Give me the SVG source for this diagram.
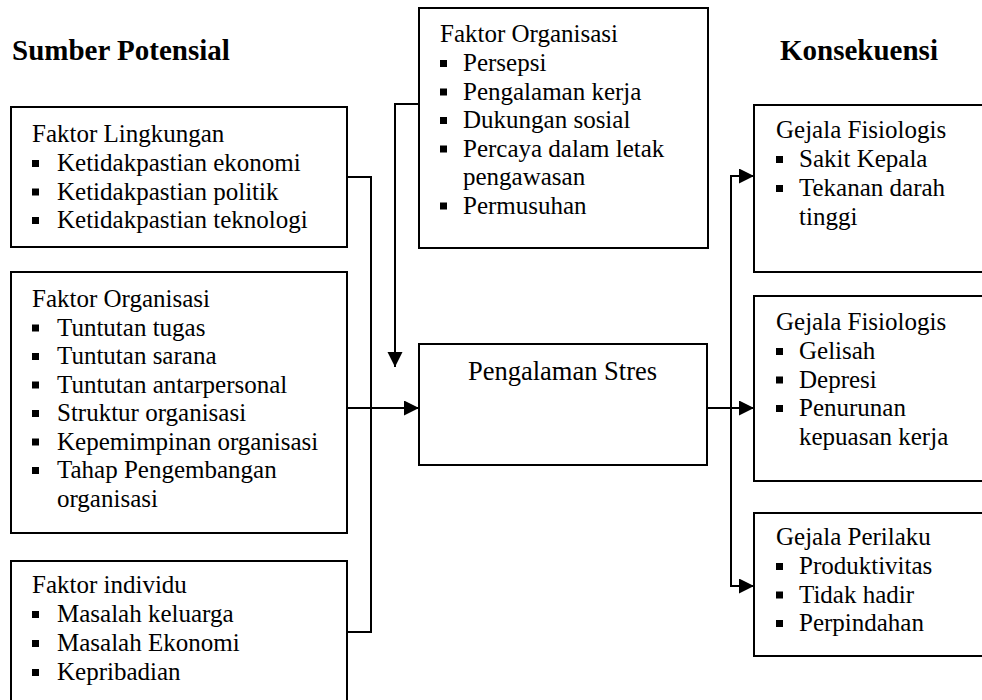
<svg xmlns="http://www.w3.org/2000/svg" xmlns:xlink="http://www.w3.org/1999/xlink" width="982" height="700" viewBox="0 0 982 700">
<style>
.box{fill:#fff;stroke:#000;stroke-width:2}
.t{font-family:"Liberation Serif","Times New Roman",serif;font-size:25px;fill:#000}
.h{font-family:"Liberation Serif","Times New Roman",serif;font-size:29px;font-weight:bold;fill:#000}
.ln{fill:none;stroke:#000;stroke-width:2}
</style>
<defs>
<rect id="b" x="0" y="-11" width="7" height="7" fill="#000"/>
<marker id="ar" markerUnits="userSpaceOnUse" markerWidth="16" markerHeight="16" refX="15" refY="7.5" orient="auto">
<path d="M0,0 L15,7.5 L0,15 Z" fill="#000"/>
</marker>
</defs>
<rect width="982" height="700" fill="#fff"/>
<text class="h" x="12" y="60">Sumber Potensial</text>
<text class="h" x="780" y="60">Konsekuensi</text>

<g id="connectors">
<polyline class="ln" points="347,177 371,177 371,632 347,632"/>
<line class="ln" x1="347" y1="408" x2="419" y2="408" marker-end="url(#ar)"/>
<polyline class="ln" points="419,104 395,104 395,367" marker-end="url(#ar)"/>
<line class="ln" x1="707" y1="408" x2="754" y2="408" marker-end="url(#ar)"/>
<polyline class="ln" points="754,176 731,176 731,586 754,586"/>
<line class="ln" x1="731" y1="176" x2="754" y2="176" marker-end="url(#ar)"/>
<line class="ln" x1="731" y1="586" x2="754" y2="586" marker-end="url(#ar)"/>
</g>

<g id="lingkungan">
<rect class="box" x="11" y="107" width="336" height="140"/>
<text class="t" x="32" y="142">Faktor Lingkungan</text>
<use href="#b" x="32" y="171"/><text class="t" x="57" y="171">Ketidakpastian ekonomi</text>
<use href="#b" x="32" y="199.5"/><text class="t" x="57" y="199.5">Ketidakpastian politik</text>
<use href="#b" x="32" y="228"/><text class="t" x="57" y="228">Ketidakpastian teknologi</text>
</g>

<g id="organisasi-kiri">
<rect class="box" x="11" y="272" width="336" height="261"/>
<text class="t" x="32" y="307">Faktor Organisasi</text>
<use href="#b" x="32" y="335.5"/><text class="t" x="57" y="335.5">Tuntutan tugas</text>
<use href="#b" x="32" y="364"/><text class="t" x="57" y="364">Tuntutan sarana</text>
<use href="#b" x="32" y="392.5"/><text class="t" x="57" y="392.5">Tuntutan antarpersonal</text>
<use href="#b" x="32" y="421"/><text class="t" x="57" y="421">Struktur organisasi</text>
<use href="#b" x="32" y="449.5"/><text class="t" x="57" y="449.5">Kepemimpinan organisasi</text>
<use href="#b" x="32" y="478"/><text class="t" x="57" y="478">Tahap Pengembangan</text>
<text class="t" x="57" y="507">organisasi</text>
</g>

<g id="individu">
<rect class="box" x="11" y="561" width="336" height="145"/>
<text class="t" x="32" y="593">Faktor individu</text>
<use href="#b" x="32" y="622"/><text class="t" x="57" y="622">Masalah keluarga</text>
<use href="#b" x="32" y="651"/><text class="t" x="57" y="651">Masalah Ekonomi</text>
<use href="#b" x="32" y="680"/><text class="t" x="57" y="680">Kepribadian</text>
</g>

<g id="organisasi-atas">
<rect class="box" x="419" y="8" width="289" height="240"/>
<text class="t" x="440" y="42">Faktor Organisasi</text>
<use href="#b" x="440" y="71"/><text class="t" x="463" y="71">Persepsi</text>
<use href="#b" x="440" y="99.5"/><text class="t" x="463" y="99.5">Pengalaman kerja</text>
<use href="#b" x="440" y="128"/><text class="t" x="463" y="128">Dukungan sosial</text>
<use href="#b" x="440" y="156.5"/><text class="t" x="463" y="156.5">Percaya dalam letak</text>
<text class="t" x="463" y="185">pengawasan</text>
<use href="#b" x="440" y="213.5"/><text class="t" x="463" y="213.5">Permusuhan</text>
</g>

<g id="stres">
<rect class="box" x="419" y="344" width="288" height="121"/>
<text class="t" x="562.5" y="380" text-anchor="middle" style="font-size:26.5px">Pengalaman Stres</text>
</g>

<g id="fisiologis-1">
<rect class="box" x="754" y="105" width="240" height="167"/>
<text class="t" x="776" y="138">Gejala Fisiologis</text>
<use href="#b" x="776" y="167"/><text class="t" x="799" y="167">Sakit Kepala</text>
<use href="#b" x="776" y="196"/><text class="t" x="799" y="196">Tekanan darah</text>
<text class="t" x="799" y="225">tinggi</text>
</g>

<g id="fisiologis-2">
<rect class="box" x="754" y="296" width="240" height="185"/>
<text class="t" x="776" y="330">Gejala Fisiologis</text>
<use href="#b" x="776" y="359"/><text class="t" x="799" y="359">Gelisah</text>
<use href="#b" x="776" y="387.5"/><text class="t" x="799" y="387.5">Depresi</text>
<use href="#b" x="776" y="416"/><text class="t" x="799" y="416">Penurunan</text>
<text class="t" x="799" y="444.5">kepuasan kerja</text>
</g>

<g id="perilaku">
<rect class="box" x="754" y="513" width="240" height="143"/>
<text class="t" x="776" y="545">Gejala Perilaku</text>
<use href="#b" x="776" y="574"/><text class="t" x="799" y="574">Produktivitas</text>
<use href="#b" x="776" y="602.5"/><text class="t" x="799" y="602.5">Tidak hadir</text>
<use href="#b" x="776" y="631"/><text class="t" x="799" y="631">Perpindahan</text>
</g>
</svg>
